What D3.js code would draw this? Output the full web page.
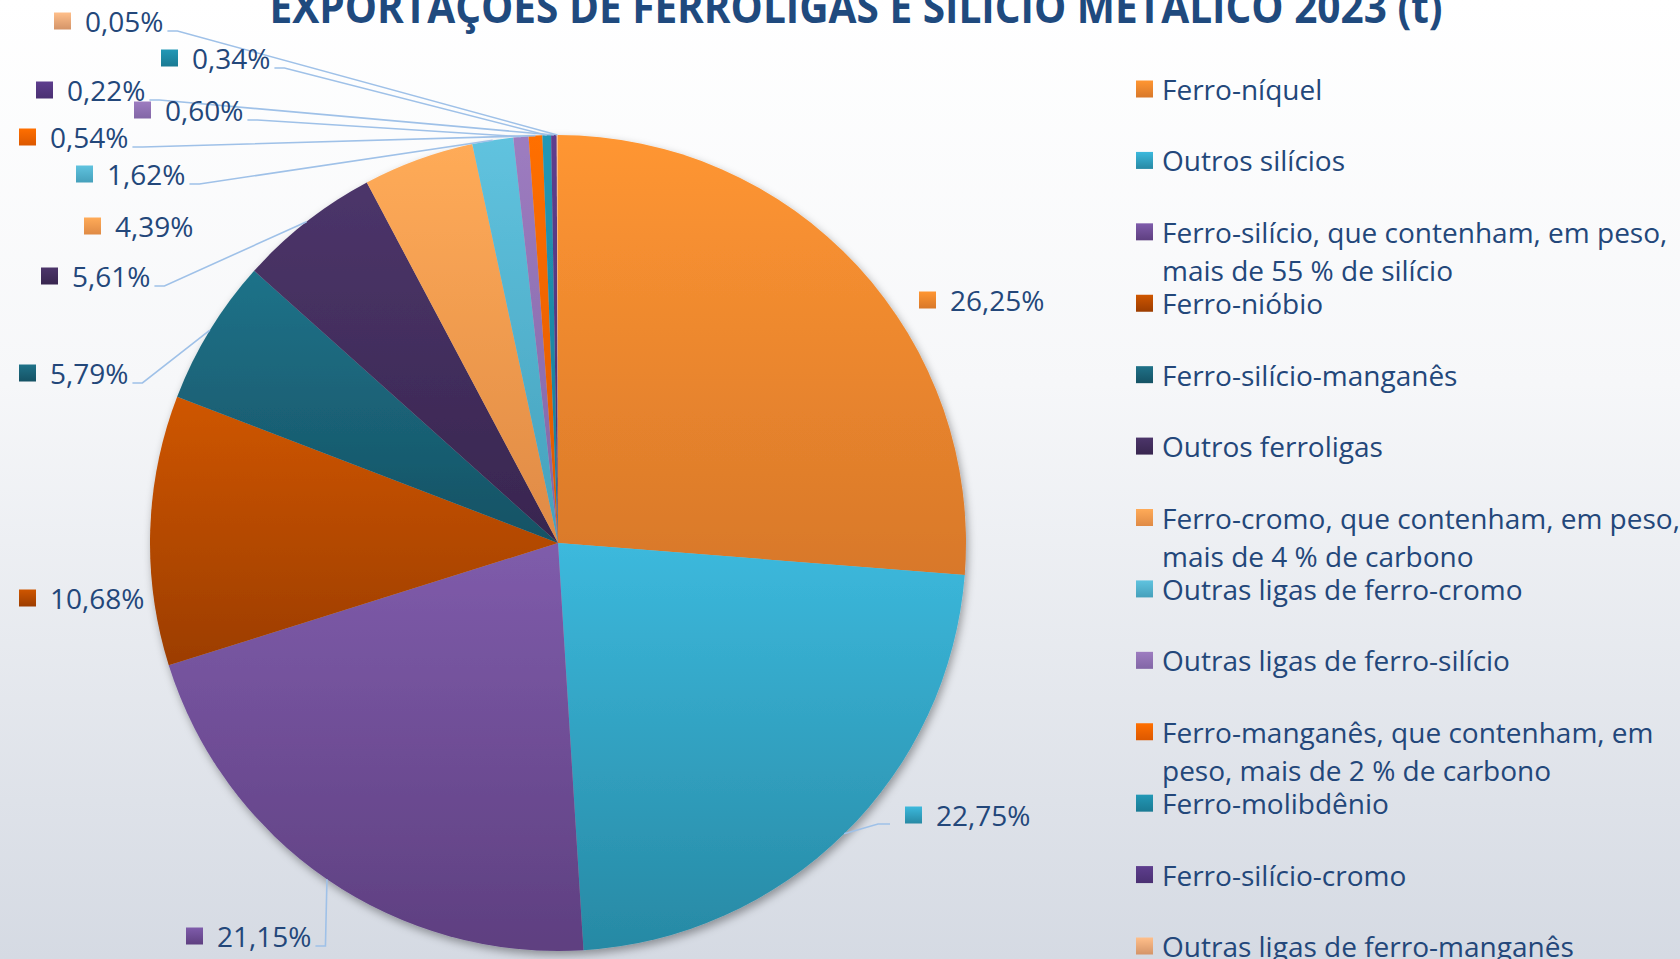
<!DOCTYPE html>
<html>
<head>
<meta charset="utf-8">
<script src="https://cdn.jsdelivr.net/npm/d3@7"></script>
<style>
  html, body { margin: 0; padding: 0; overflow: hidden; }
  svg { display: block; font-family: "Open Sans", sans-serif; }
</style>
</head>
<body>
<div id="chart"></div>
<script>
// valores (participação %, exportações 2023)
const categories = [
    "Ferro-níquel",
    "Outros silícios",
    "Ferro-silício, que contenham, em peso, mais de 55 % de silício",
    "Ferro-nióbio",
    "Ferro-silício-manganês",
    "Outros ferroligas",
    "Ferro-cromo, que contenham, em peso, mais de 4 % de carbono",
    "Outras ligas de ferro-cromo",
    "Outras ligas de ferro-silício",
    "Ferro-manganês, que contenham, em peso, mais de 2 % de carbono",
    "Ferro-molibdênio",
    "Ferro-silício-cromo",
    "Outras ligas de ferro-manganês"
];
const shares = [26.25, 22.75, 21.15, 10.68, 5.79, 5.61, 4.39, 1.62, 0.60, 0.54, 0.34, 0.22, 0.05];

// cores [topo, base] de cada fatia
const sliceColors = [
    ["#ff9632", "#d8782a"],
    ["#3cb9dd", "#2789a4"],
    ["#7f5cab", "#5e3f80"],
    ["#cf5600", "#9c3d00"],
    ["#1f7289", "#155264"],
    ["#4c356a", "#38264f"],
    ["#ffab58", "#df8a45"],
    ["#60c3df", "#45a0bb"],
    ["#9d7cc0", "#8266a6"],
    ["#ff6f00", "#dc5800"],
    ["#2298b6", "#1a7a93"],
    ["#5e3e8e", "#4a3072"],
    ["#ffbf8a", "#d49468"]
];

// posição manual dos rótulos (canto esquerdo do quadrado, centro do texto)
const labelPos = [
    [919, 300], [905, 815], [186, 936], [19, 598], [19, 373], [41, 276], [84, 226],
    [76, 174], [134, 110], [19, 137], [161, 58], [36, 90], [54, 21]
];
const noLeader = [0, 3, 6];

const width = 1680, height = 959;
const cx = 558, cy = 543, radius = 408;
const textColor = "#23477a";
const leaderColor = "#9fc1e8";

const locale = d3.formatLocale({ decimal: ",", thousands: ".", grouping: [3], currency: ["R$", ""] });
const fmt = locale.format(".2f");

const svg = d3.select("#chart").append("svg")
    .attr("width", width)
    .attr("height", height);

const defs = svg.append("defs");

let bg = defs.append("linearGradient").attr("id", "bg")
    .attr("x1", 0).attr("y1", 0).attr("x2", 0).attr("y2", 1);
bg.append("stop").attr("offset", "0%").attr("stop-color", "#ffffff");
bg.append("stop").attr("offset", "40%").attr("stop-color", "#f6f7f9");
bg.append("stop").attr("offset", "100%").attr("stop-color", "#d5dae3");

sliceColors.forEach((c, i) => {
    let g = defs.append("linearGradient").attr("id", "grad" + i)
        .attr("x1", 0).attr("y1", 0).attr("x2", 0).attr("y2", 1);
    g.append("stop").attr("offset", "0%").attr("stop-color", c[0]);
    g.append("stop").attr("offset", "100%").attr("stop-color", c[1]);
});

defs.append("filter").attr("id", "shadow")
    .attr("x", "-10%").attr("y", "-10%").attr("width", "120%").attr("height", "120%")
    .append("feDropShadow")
    .attr("dx", 2).attr("dy", 4)
    .attr("stdDeviation", 4)
    .attr("flood-color", "#000")
    .attr("flood-opacity", 0.35);

svg.append("rect")
    .attr("width", width).attr("height", height)
    .attr("fill", "url(#bg)");

// titulo
svg.append("text")
    .attr("x", 856)
    .attr("y", 23)
    .attr("text-anchor", "middle")
    .attr("font-size", 44)
    .attr("font-weight", "bold")
    .attr("fill", "#1f4a7e")
    .attr("textLength", 1173)
    .attr("lengthAdjust", "spacingAndGlyphs")
    .text("EXPORTAÇÕES DE FERROLIGAS E SILÍCIO METÁLICO 2023 (t)");

// pizza
let pie = d3.pie().sort(null).value(d => d);
let arcs = pie(shares);
let arc = d3.arc().innerRadius(0).outerRadius(radius);

let pieG = svg.append("g")
    .attr("transform", `translate(${cx},${cy})`)
    .attr("filter", "url(#shadow)");

pieG.selectAll(".slice").data(arcs).enter().append("path")
    .attr("class", "slice")
    .attr("d", arc)
    .attr("fill", (d, i) => `url(#grad${i})`);

// rótulos e linhas de chamada
let labelsG = svg.append("g");

arcs.forEach((d, i) => {
    let [lx, ly] = labelPos[i];
    let g = labelsG.append("g");
    g.append("rect")
        .attr("x", lx).attr("y", ly - 8.5)
        .attr("width", 17).attr("height", 17)
        .attr("fill", `url(#grad${i})`);
    let t = g.append("text")
        .attr("x", lx + 31)
        .attr("y", ly)
        .attr("dominant-baseline", "central")
        .attr("font-size", 28)
        .attr("fill", textColor)
        .text(fmt(d.data) + "%");

    if (noLeader.includes(i)) return;
    let mid = (d.startAngle + d.endAngle) / 2;
    let ex = cx + radius * Math.sin(mid);
    let ey = cy - radius * Math.cos(mid);
    let pts;
    if (lx < ex) {
        let sx = lx + 31 + t.node().getComputedTextLength() + 4;
        let sy = ly + 10;
        pts = [[sx, sy], [Math.min(sx + 10, ex), sy], [ex, ey]];
    } else {
        let sx = lx - 15;
        let sy = ly + 9;
        pts = [[sx, sy], [sx - 12, sy], [ex, ey]];
    }
    labelsG.insert("path", ":first-child")
        .attr("d", d3.line()(pts))
        .attr("fill", "none")
        .attr("stroke", leaderColor)
        .attr("stroke-width", 1.6);
});

// legenda
let legendY = d3.scalePoint().domain(categories).range([89, 946]);
let legend = svg.append("g");

categories.forEach((name, i) => {
    let y = legendY(name);
    legend.append("rect")
        .attr("x", 1136).attr("y", y - 8.5)
        .attr("width", 17).attr("height", 17)
        .attr("fill", `url(#grad${i})`);
    let t = legend.append("text")
        .attr("x", 1162)
        .attr("y", y)
        .attr("dominant-baseline", "central")
        .attr("font-size", 28)
        .attr("fill", textColor);
    wrap(t, name, 535, 38);
});

function wrap(textSel, str, maxWidth, lineHeight) {
    let words = str.split(" ");
    let line = [];
    let tspan = textSel.append("tspan").attr("x", 1162).attr("dy", 0);
    words.forEach(w => {
        line.push(w);
        tspan.text(line.join(" "));
        if (tspan.node().getComputedTextLength() > maxWidth && line.length > 1) {
            line.pop();
            tspan.text(line.join(" "));
            line = [w];
            tspan = textSel.append("tspan").attr("x", 1162).attr("dy", lineHeight).text(w);
        }
    });
}
</script>
</body>
</html>
